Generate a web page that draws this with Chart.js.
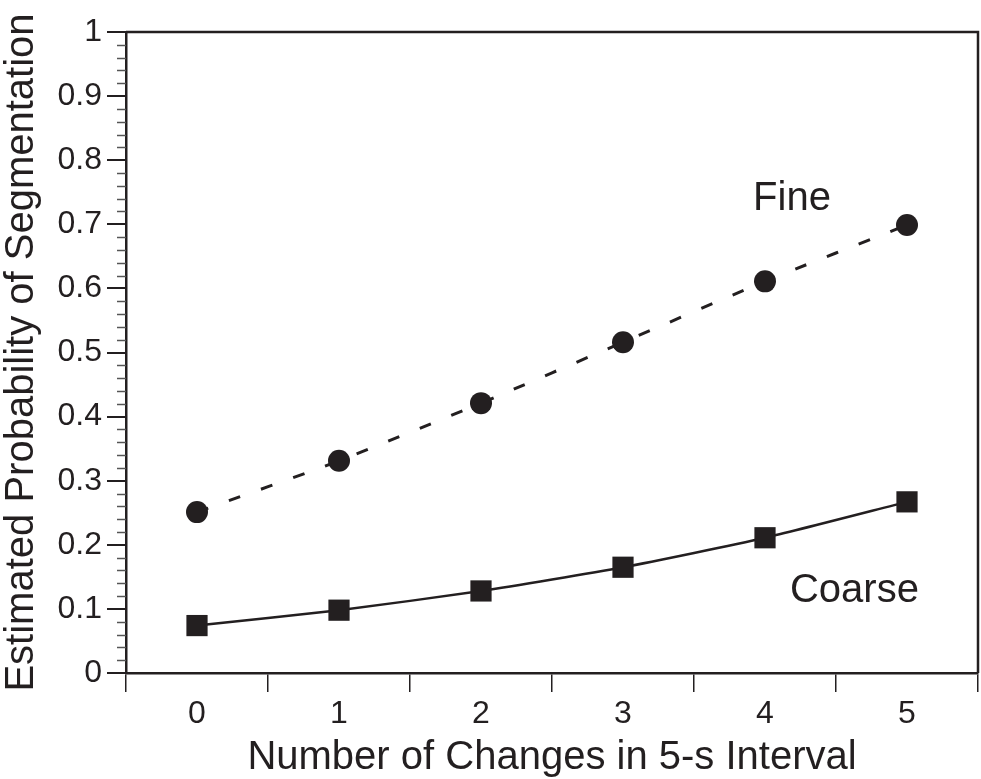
<!DOCTYPE html>
<html>
<head>
<meta charset="utf-8">
<script src="https://cdn.jsdelivr.net/npm/chart.js"></script>
<style>
  html, body { margin: 0; padding: 0; background: #fff; overflow: hidden; }
  canvas { display: block; }
</style>
</head>
<body>
<canvas id="segChart" width="981" height="779"></canvas>
<script>
// values
const changes = ['0', '1', '2', '3', '4', '5'];
const fineProb = [0.251, 0.331, 0.421, 0.516, 0.611, 0.699];
const coarseProb = [0.074, 0.098, 0.128, 0.165, 0.211, 0.267];

const ink = '#231f20';
const fontFamily = '"Liberation Sans", Arial, Helvetica, sans-serif';

// minor ticks on the y axis + top/right frame + series labels
const extras = {
    id: 'extras',
    afterDraw(chart) {
        const ctx = chart.ctx;
        const area = chart.chartArea;
        const y = chart.scales.y;
        const x = chart.scales.x;

        ctx.save();
        ctx.strokeStyle = '#555';
        ctx.lineWidth = 1.5;
        y.ticks.forEach((t, i) => {
            if (i % 5 === 0) return;
            const py = Math.round(y.getPixelForValue(t.value)) + 0.5;
            ctx.beginPath();
            ctx.moveTo(area.left - 9, py);
            ctx.lineTo(area.left, py);
            ctx.stroke();
        });

        ctx.strokeStyle = ink;
        ctx.lineWidth = 2.5;
        ctx.beginPath();
        ctx.moveTo(area.left, area.top);
        ctx.lineTo(area.right, area.top);
        ctx.lineTo(area.right, area.bottom);
        ctx.stroke();

        ctx.fillStyle = ink;
        ctx.font = '40px ' + fontFamily;
        ctx.textAlign = 'center';
        ctx.textBaseline = 'middle';
        ctx.fillText('Fine', x.getPixelForValue(4.19), y.getPixelForValue(0.74));
        ctx.fillText('Coarse', x.getPixelForValue(4.63), y.getPixelForValue(0.128));
        ctx.restore();
    }
};

const ctx = document.getElementById('segChart').getContext('2d');
new Chart(ctx, {
    type: 'line',
    data: {
        labels: changes,
        datasets: [
            {
                label: 'Fine',
                data: fineProb,
                borderColor: ink,
                backgroundColor: ink,
                borderWidth: 3,
                borderDash: [12, 22],
                pointStyle: 'circle',
                pointRadius: 11,
                pointBorderWidth: 0,
                tension: 0.2,
                fill: false
            },
            {
                label: 'Coarse',
                data: coarseProb,
                borderColor: ink,
                backgroundColor: ink,
                borderWidth: 2.5,
                pointStyle: 'rect',
                pointRadius: 15,
                pointBorderWidth: 0,
                tension: 0.2,
                fill: false
            }
        ]
    },
    options: {
        responsive: false,
        animation: false,
        devicePixelRatio: 1,
        layout: { autoPadding: false, padding: { top: 32, right: 3, left: 0, bottom: 0 } },
        plugins: {
            legend: { display: false },
            tooltip: { enabled: false }
        },
        scales: {
            x: {
                type: 'category',
                offset: true,
                afterFit: s => { s.height = 106; },
                grid: {
                    offset: true,
                    drawOnChartArea: false,
                    tickLength: 19,
                    color: ink,
                    lineWidth: 1.5
                },
                border: { color: ink, width: 2.5 },
                ticks: {
                    color: ink,
                    padding: 3,
                    font: { family: fontFamily, size: 32 }
                },
                title: {
                    display: true,
                    text: 'Number of Changes in 5-s Interval',
                    color: ink,
                    padding: 0,
                    font: { family: fontFamily, size: 40, lineHeight: 1.05 }
                }
            },
            y: {
                min: 0,
                max: 1,
                afterFit: s => { s.width = 126; },
                grid: {
                    drawOnChartArea: false,
                    tickLength: 19,
                    color: c => (c.index % 5 === 0 ? ink : 'rgba(0,0,0,0)'),
                    lineWidth: 2
                },
                border: { color: ink, width: 2.5 },
                ticks: {
                    stepSize: 0.02,
                    maxTicksLimit: 100,
                    autoSkip: false,
                    color: ink,
                    padding: 5,
                    font: { family: fontFamily, size: 32 },
                    callback: (v, i) => (i % 5 === 0 ? String(Number(v.toFixed(1))) : '')
                },
                title: {
                    display: true,
                    text: 'Estimated Probability of Segmentation',
                    color: ink,
                    padding: 0,
                    font: { family: fontFamily, size: 40, lineHeight: 1.1 }
                }
            }
        }
    },
    plugins: [extras]
});
</script>
</body>
</html>
